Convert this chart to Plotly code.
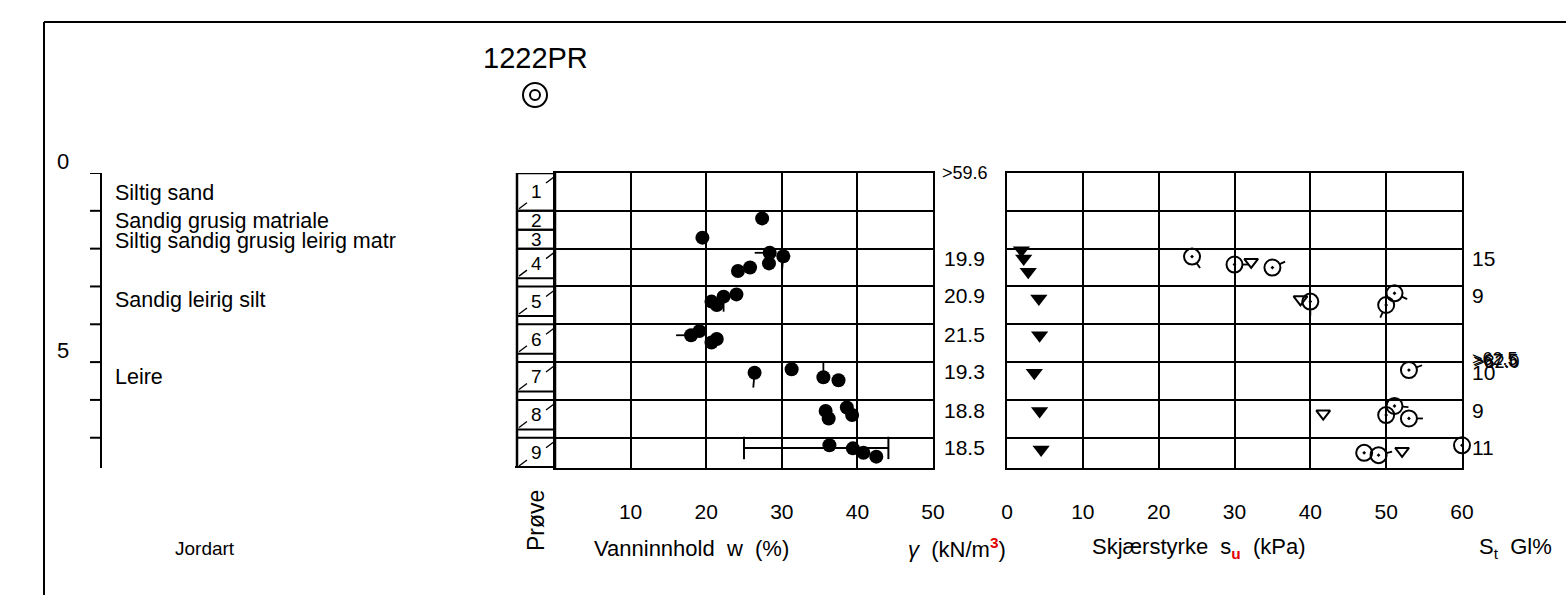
import math
import plotly.graph_objects as go

W, H = 1566, 595
FONT = "Liberation Sans, Arial, sans-serif"

# ---------------- data ----------------
title = "1222PR"

depth_ticks = [0, 1, 2, 3, 4, 5, 6, 7]
depth_tick_labels = ["0", "", "", "", "", "5", "", ""]
depth_max = 7.8

soil_names = ["Siltig sand", "Sandig grusig matriale", "Siltig sandig grusig leirig matr",
              "Sandig leirig silt", "Leire"]
soil_label_depth = [0.52, 1.28, 1.80, 3.36, 5.40]

sample_no = [1, 2, 3, 4, 5, 6, 7, 8, 9]
sample_top = [0.0, 1.0, 1.5, 2.0, 3.0, 4.0, 5.0, 6.0, 7.0]
sample_bot = [1.0, 1.5, 2.0, 2.78, 3.78, 4.78, 5.78, 6.78, 7.8]

# water content w (%)
w_value = [27.4, 19.5, 28.4, 30.2, 28.3, 25.8, 24.2, 24.0, 22.3, 20.7, 21.4,
           19.1, 18.0, 21.4, 20.7, 26.4, 31.3, 35.5, 37.5, 35.8, 36.2, 38.6,
           39.3, 36.3, 39.4, 40.8, 42.5]
w_depth = [1.20, 1.71, 2.11, 2.20, 2.39, 2.50, 2.59, 3.21, 3.27, 3.40, 3.49,
           4.18, 4.29, 4.39, 4.48, 5.28, 5.19, 5.40, 5.48, 6.29, 6.49, 6.20,
           6.40, 7.20, 7.28, 7.40, 7.50]
w_over_value = [59.6]
w_over_depth = [0.0]

# Atterberg limits
w_plastic = [25.0]
w_liquid = [44.1]
atterberg_depth = [7.27]

# unit weight (kN/m3)
gamma_value = [19.9, 20.9, 21.5, 19.3, 18.8, 18.5]
gamma_depth = [2.25, 3.25, 4.26, 5.26, 6.27, 7.27]

# shear strength (kPa)
su_remoulded = [1.9, 2.2, 2.8, 4.2, 4.3, 3.6, 4.3, 4.5]
su_remoulded_depth = [2.04, 2.26, 2.61, 3.32, 4.29, 5.28, 6.29, 7.31]

su_cone = [24.4, 30.0, 35.0, 51.1, 50.0, 40.0, 53.0, 51.1, 50.0, 53.0, 47.1, 49.0, 60.0]
su_cone_depth = [2.21, 2.42, 2.50, 3.18, 3.49, 3.40, 5.21, 6.16, 6.40, 6.49, 7.40, 7.46, 7.20]

su_uc = [32.2, 38.7, 41.7, 52.1]
su_uc_depth = [2.35, 3.34, 6.36, 7.35]

su_over_value = [62.5, 67.5, 82.0]
su_over_depth = [4.93, 4.97, 5.01]

st_value = [15, 9, 10, 9, 11]
st_depth = [2.25, 3.25, 5.27, 6.27, 7.27]

w_ticks = [10, 20, 30, 40, 50]
su_ticks = [0, 10, 20, 30, 40, 50, 60]

# tail direction on point symbols (screen degrees, 0 = right, 90 = down); None = plain symbol
w_tail = [None, None, 180, 95, None, None, None, None, 90, None, None,
          None, 180, None, None, 95, None, -90, None, None, None, None,
          None, None, None, None, None]
su_cone_tail = [55, 0, -25, 25, 115, 90, -20, 5, None, 0, None, -15, 0]


# ---------------- helpers ----------------
def px(x):
    return x / W


def py(y):
    return 1 - y / H


LINE = dict(color="black", width=2)
shapes = []
annotations = []


def pline(x0, y0, x1, y1, width=2):
    shapes.append(dict(type="line", xref="paper", yref="paper", x0=px(x0), y0=py(y0),
                       x1=px(x1), y1=py(y1), line=dict(color="black", width=width)))


def text(x, y, s, size=21, xanchor="left", yanchor="middle", xref="paper", yref="paper", **kw):
    annotations.append(dict(x=x, y=y, xref=xref, yref=yref, text=s, showarrow=False,
                            xanchor=xanchor, yanchor=yanchor,
                            font=dict(family=FONT, size=size, color="black"), **kw))


def tails(xs, ys, angles, xref, yref, r0, r1):
    for xv, yv, ang in zip(xs, ys, angles):
        if ang is None:
            continue
        a = math.radians(ang)
        shapes.append(dict(type="line", xref=xref, yref=yref, xsizemode="pixel", ysizemode="pixel",
                           xanchor=xv, yanchor=yv,
                           x0=r0 * math.cos(a), y0=-r0 * math.sin(a),
                           x1=r1 * math.cos(a), y1=-r1 * math.sin(a),
                           line=dict(color="black", width=1.8)))


# panel geometry (pixels)
W_LEFT, W_RIGHT = 555, 933
S_LEFT, S_RIGHT = 1007, 1462
P_TOP, P_BOT = 173, 468
COL_LEFT = 517
DEPTH_X = 101

fig = go.Figure()

# water content points
fig.add_trace(go.Scatter(x=w_value, y=w_depth, mode="markers", xaxis="x", yaxis="y",
                         marker=dict(symbol="circle", size=14, color="black"),
                         cliponaxis=False, showlegend=False))
tails(w_value, w_depth, w_tail, "x", "y", 5, 15)

# Atterberg limits range
fig.add_trace(go.Scatter(x=[w_plastic[0], w_liquid[0]], y=[atterberg_depth[0]] * 2,
                         mode="lines+markers", xaxis="x", yaxis="y",
                         line=dict(color="black", width=2),
                         marker=dict(symbol="line-ns", size=16, line=dict(color="black", width=2)),
                         showlegend=False))

# shear strength
fig.add_trace(go.Scatter(x=su_remoulded, y=su_remoulded_depth, mode="markers", xaxis="x2", yaxis="y2",
                         marker=dict(symbol="triangle-down", size=15, color="black"),
                         cliponaxis=False, showlegend=False))
fig.add_trace(go.Scatter(x=su_cone, y=su_cone_depth, mode="markers", xaxis="x2", yaxis="y2",
                         marker=dict(symbol="circle-open-dot", size=16, color="black",
                                     line=dict(color="black", width=2)),
                         cliponaxis=False, showlegend=False))
fig.add_trace(go.Scatter(x=su_uc, y=su_uc_depth, mode="markers", xaxis="x2", yaxis="y2",
                         marker=dict(symbol="triangle-down-open", size=12, color="black",
                                     line=dict(color="black", width=2)),
                         cliponaxis=False, showlegend=False))
tails(su_cone, su_cone_depth, su_cone_tail, "x2", "y2", 8, 14)

# outer frame
pline(44, 22, 44, 600, 2)
pline(44, 22, 1570, 22, 2)

# depth axis
shapes.append(dict(type="line", xref="paper", yref="y", x0=px(DEPTH_X), x1=px(DEPTH_X),
                   y0=0, y1=depth_max, line=LINE))
for d, lab in zip(depth_ticks, depth_tick_labels):
    shapes.append(dict(type="line", xref="paper", yref="y", x0=px(90), x1=px(DEPTH_X),
                       y0=d, y1=d, line=LINE))
    if lab:
        text(px(63), d, lab, size=22, xanchor="center", yref="y", yshift=12)

# soil descriptions
for name, d in zip(soil_names, soil_label_depth):
    text(px(113), d, name, size=21.5, yref="y")

# sample column
shapes.append(dict(type="rect", xref="paper", yref="y", x0=px(COL_LEFT), x1=px(W_LEFT),
                   y0=0, y1=depth_max, line=dict(color="black", width=2.5)))
for n, t, b in zip(sample_no, sample_top, sample_bot):
    for d in (t, b):
        shapes.append(dict(type="line", xref="paper", yref="y", x0=px(COL_LEFT), x1=px(W_LEFT),
                           y0=d, y1=d, line=dict(color="black", width=2)))
    if b - t > 0.6:
        shapes.append(dict(type="line", xref="paper", yref="y", ysizemode="pixel", yanchor=t,
                           x0=px(W_LEFT - 9), x1=px(W_LEFT - 1), y0=-10, y1=-4,
                           line=dict(color="black", width=1.3)))
        shapes.append(dict(type="line", xref="paper", yref="y", ysizemode="pixel", yanchor=b,
                           x0=px(COL_LEFT + 2), x1=px(COL_LEFT + 10), y0=2, y1=8,
                           line=dict(color="black", width=1.3)))
    text(px(536), (t + b) / 2, str(n), size=19, xanchor="center", yref="y")
shapes.append(dict(type="line", xref="paper", yref="y", x0=px(COL_LEFT - 2), x1=px(W_LEFT),
                   y0=depth_max, y1=depth_max, line=dict(color="black", width=4)))

# unit weight values
for g, d in zip(gamma_value, gamma_depth):
    text(px(942), d, f"{g:.1f}", size=21, yref="y")

# value beyond w axis
for v, d in zip(w_over_value, w_over_depth):
    shapes.append(dict(type="line", xref="x", yref="y", xsizemode="pixel", xanchor=50,
                       x0=0, x1=8, y0=d, y1=d, line=LINE))
    text(px(W_RIGHT + 7), d, f"&gt;{v:.1f}", size=18, yref="y")

# sensitivity values
for s, d in zip(st_value, st_depth):
    text(px(1470), d, str(s), size=21, yref="y")

# values beyond su axis
for i, (v, d) in enumerate(zip(su_over_value, su_over_depth)):
    shapes.append(dict(type="line", xref="x2", yref="y2", xsizemode="pixel", xanchor=60,
                       x0=0, x1=9, y0=d, y1=d, line=dict(color="black", width=1.5)))
    text(px(S_RIGHT + 8 + i), d, f"&gt;{v:.1f}", size=18, yref="y")

# title and location symbol
text(px(535), py(58), title, size=29, xanchor="center")
shapes.append(dict(type="circle", xref="paper", yref="paper", x0=px(523), x1=px(547),
                   y0=py(107), y1=py(83), line=dict(color="black", width=2)))
shapes.append(dict(type="circle", xref="paper", yref="paper", x0=px(530), x1=px(540),
                   y0=py(100), y1=py(90), line=dict(color="black", width=2)))

# column headings
text(px(205), py(548), "Jordart", size=19, xanchor="center")
text(px(536), py(521), "Prøve", size=23, xanchor="center", textangle=-90)
text(px(592), py(548), "Vanninnhold  w  (%)", size=22)
text(px(906), py(548), "<i>γ</i>  (kN/m<sup><b><span style='color:#e00000'>3</span></b></sup>)", size=22)
text(px(1090), py(548),
     "Skjærstyrke  s<sub><b><span style='color:#e00000'>u</span></b></sub>  (kPa)", size=22)
text(px(1477), py(548), "S<sub>t</sub>  Gl%", size=22)

axis_common = dict(showgrid=True, gridcolor="black", gridwidth=2, zeroline=False,
                   showline=True, linecolor="black", linewidth=2, mirror=True, ticks="",
                   automargin=False)

fig.update_layout(
    width=W, height=H, margin=dict(l=0, r=0, t=0, b=0, autoexpand=False),
    paper_bgcolor="white", plot_bgcolor="white", showlegend=False,
    xaxis=dict(domain=[px(W_LEFT), px(W_RIGHT)], range=[0, 50], anchor="y",
               tickmode="array", tickvals=w_ticks, ticklabelstandoff=24,
               tickfont=dict(family=FONT, size=21, color="black"), **axis_common),
    yaxis=dict(domain=[py(P_BOT), py(P_TOP)], range=[depth_max, 0], anchor="x",
               tick0=0, dtick=1, showticklabels=False, **axis_common),
    xaxis2=dict(domain=[px(S_LEFT), px(S_RIGHT)], range=[0, 60], anchor="y2",
                tickmode="array", tickvals=su_ticks, ticklabelstandoff=24,
                tickfont=dict(family=FONT, size=21, color="black"), **axis_common),
    yaxis2=dict(domain=[py(P_BOT), py(P_TOP)], range=[depth_max, 0], anchor="x2",
                matches="y", tick0=0, dtick=1, showticklabels=False, **axis_common),
    shapes=shapes, annotations=annotations,
)

fig.write_html("out.html")
